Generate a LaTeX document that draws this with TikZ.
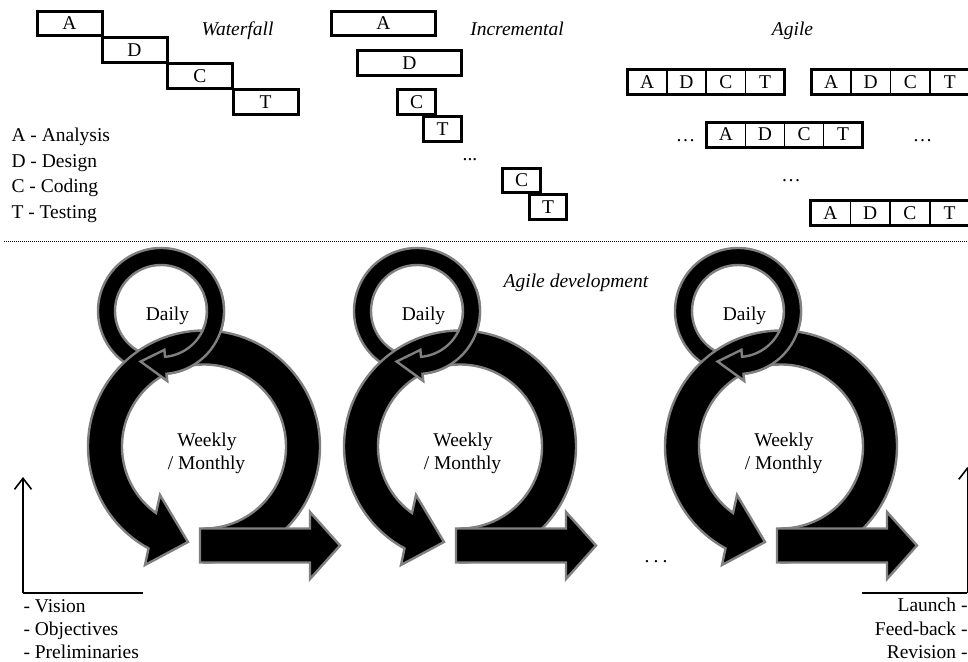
\documentclass[tikz,border=0pt]{standalone}
\usepackage{fontspec}
\setmainfont{Liberation Serif}
\usetikzlibrary{calc,arrows.meta}
\definecolor{rim}{RGB}{128,128,128}

\tikzset{
  lbl/.style={inner sep=0pt, outer sep=0pt, font=\fontsize{19.5}{23}\selectfont},
  ttl/.style={lbl, font=\fontsize{19.5}{23}\selectfont\itshape, anchor=base},
  phase/.style={lbl, draw, line width=3pt, fill=white, minimum height=24.5pt},
  cell/.style={lbl, draw, line width=1.5pt, fill=white, minimum height=25pt},
  frame/.style={line width=3pt},
  ringarrow/.style={fill=black, draw=rim, line width=2.4pt, line join=miter},
  axisline/.style={line width=1.6pt},
  barb/.style={-{Straight Barb[length=11pt,width=17pt]}},
  sep/.style={line width=1pt, dash pattern=on 1pt off 1pt},
}

% one sprint cycle: daily loop, weekly/monthly loop and outgoing arrow
% #1 = horizontal offset, #2 = name suffix
\newcommand{\sprintcycle}[2]{%
  \coordinate (dc#2) at ({161+#1},311);
  \coordinate (bc#2) at ({204+#1},446.5);
  % daily loop (its tail ends up under the big loop)
  \filldraw[ringarrow] ($(dc#2)+(110:63)$) arc[start angle=110,end angle=445,radius=63]
    -- ($(dc#2)+(445:70)$) -- ($(dc#2)+(472:54.5)$) -- ($(dc#2)+(445:39)$)
    -- ($(dc#2)+(445:46)$) arc[start angle=445,end angle=110,radius=46] -- cycle;
  % weekly / monthly loop
  \filldraw[ringarrow] ($(bc#2)+(90:116)$) arc[start angle=90,end angle=-241.4,radius=116]
    -- ($(bc#2)+(-59,118.5)$) -- ($(bc#2)+(-16,95.5)$) -- ($(bc#2)+(-44,48.5)$)
    -- ($(bc#2)+(-234.2:82)$) arc[start angle=-234.2,end angle=90,radius=82] -- cycle;
  % lower right part of the daily loop passes over the big loop
  \filldraw[ringarrow] ($(dc#2)+(340:63)$) arc[start angle=340,end angle=445,radius=63]
    -- ($(dc#2)+(445:70)$) -- ($(dc#2)+(472:54.5)$) -- ($(dc#2)+(445:39)$)
    -- ($(dc#2)+(445:46)$) arc[start angle=445,end angle=340,radius=46];
  % outgoing arrow
  \filldraw[ringarrow] ({200+#1},528.5) -- ({310+#1},528.5) -- ({310+#1},512)
    -- ({340+#1},545.5) -- ({310+#1},579) -- ({310+#1},562.5) -- ({200+#1},562.5) -- cycle;
  \node[lbl, anchor=base] (daily#2) at ({167.5+#1},320) {Daily};
  \node[lbl, anchor=base] (weekly#2) at ({207+#1},446.5) {Weekly};
  \node[lbl, anchor=base] (monthly#2) at ({206.5+#1},469) {/ Monthly};
}

\begin{document}
\begin{tikzpicture}[x=1pt, y=1pt, yscale=-1]
\clip (0,0) rectangle (968,661);

% ---------- Waterfall ----------
\node[phase, minimum width=65pt] (wA) at (69.5,23.5) {A};
\node[phase, minimum width=65pt] (wD) at (134.5,50) {D};
\node[phase, minimum width=65pt] (wC) at (200,76) {C};
\node[phase, minimum width=65pt] (wT) at (265.5,102) {T};
\node[ttl] (wtitle) at (237.5,35.7) {Waterfall};

% legend
\node[lbl, anchor=base west] (legA) at (11.5,141.5) {A - Analysis};
\node[lbl, anchor=base west] (legD) at (11.5,167) {D - Design};
\node[lbl, anchor=base west] (legC) at (11.5,192.5) {C - Coding};
\node[lbl, anchor=base west] (legT) at (11.5,218) {T - Testing};

% ---------- Incremental ----------
\node[phase, minimum width=104pt, minimum height=24pt] (iA) at (383.5,23.5) {A};
\node[phase, minimum width=104pt, minimum height=25pt] (iD) at (409.5,63) {D};
\node[phase, minimum width=38pt, minimum height=25pt] (iC) at (416.5,102) {C};
\node[phase, minimum width=38pt, minimum height=25pt] (iT) at (442.5,129) {T};
\node[lbl, anchor=base] (idots) at (470,160) {...};
\node[phase, minimum width=38pt, minimum height=24pt] (iC2) at (521.5,180.5) {C};
\node[phase, minimum width=37pt, minimum height=25pt] (iT2) at (548,207) {T};
\node[ttl] (ititle) at (517,35.7) {Incremental};

% ---------- Agile ----------
\node[ttl] (atitle) at (792.5,36) {Agile};
\foreach \l [count=\i] in {A,D,C,T} {
  \node[cell, minimum width=39.25pt] (ra\i) at ({647.25+39.25*(\i-1)},82.25) {\l};
  \node[cell, minimum width=39.5pt] (rb\i) at ({831.25+39.5*(\i-1)},82.25) {\l};
  \node[cell, minimum width=39pt] (rc\i) at ({726+39*(\i-1)},134.5) {\l};
  \node[cell, minimum width=39.75pt] (rd\i) at ({830.4+39.75*(\i-1)},212.85) {\l};
}
\draw[frame] (ra1.north west) rectangle (ra4.south east);
\draw[frame] (rb1.north west) rectangle (rb4.south east);
\draw[frame] (rc1.north west) rectangle (rc4.south east);
\draw[frame] (rd1.north west) rectangle (rd4.south east);
\node[lbl, anchor=base] (adotsL) at (685.5,141.7) {…};
\node[lbl, anchor=base] (adotsR) at (922.5,141.7) {…};
\node[lbl, anchor=base] (adotsM) at (791,181) {…};

% ---------- separator ----------
\coordinate (sepL) at (4,241);
\coordinate (sepR) at (968,241);
\draw[sep] (sepL) -- (sepR);

% ---------- Agile development ----------
\node[ttl] (devtitle) at (576,287) {Agile development};
\sprintcycle{0}{1}
\sprintcycle{256}{2}
\sprintcycle{577}{3}
\node[lbl, anchor=base] (cdots) at (656,562) {.\hspace{4.1pt}.\hspace{4.1pt}.};

% start axes
\coordinate (lo) at (23,593);
\coordinate (ltop) at (23,477);
\coordinate (lright) at (143,593);
\draw[axisline, barb] (lo) -- (ltop);
\draw[axisline] (lo) -- (lright);
\node[lbl, anchor=base west] (vis) at (23.5,612) {- Vision};
\node[lbl, anchor=base west] (obj) at (23.5,635.5) {- Objectives};
\node[lbl, anchor=base west] (pre) at (23.5,658) {- Preliminaries};

% end axes
\coordinate (ro) at (967.3,593);
\coordinate (rtop) at (967.3,467);
\coordinate (rleft) at (862,593);
\draw[axisline, barb] (ro) -- (rtop);
\draw[axisline] (rleft) -- (ro);
\node[lbl, anchor=base east] (lau) at (967.5,611.5) {Launch -};
\node[lbl, anchor=base east] (fee) at (967.5,635.5) {Feed-back -};
\node[lbl, anchor=base east] (rev) at (967.5,658) {Revision -};
\end{tikzpicture}
\end{document}
